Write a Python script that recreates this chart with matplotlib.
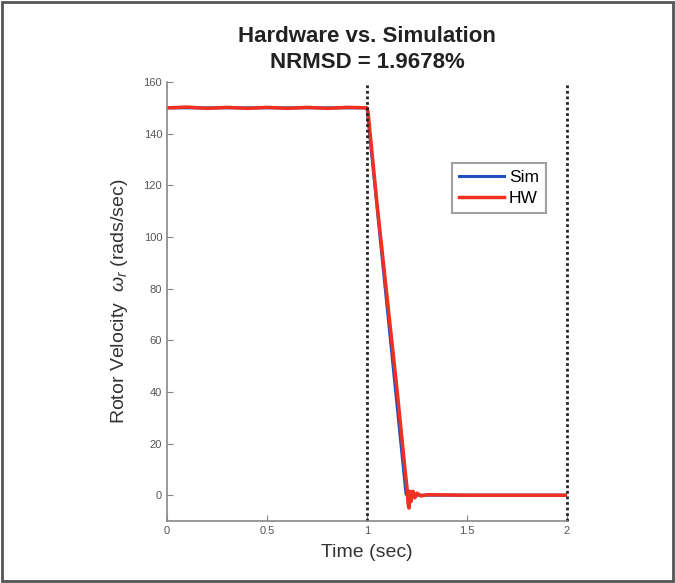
import numpy as np
import matplotlib.pyplot as plt
from matplotlib.patches import Rectangle

plt.rcParams['font.family'] = ['Liberation Sans', 'DejaVu Sans']
plt.rcParams['mathtext.fontset'] = 'custom'
plt.rcParams['mathtext.it'] = 'Liberation Sans:italic'
plt.rcParams['mathtext.rm'] = 'Liberation Sans'

# simulation trace
sim_t = [0, 1.0, 1.195, 1.2, 2.0]
sim_w = [150, 150, 0.5, 0, 0]

# hardware trace
hw_t = [0, 0.1, 0.2, 0.3, 0.4, 0.5, 0.6, 0.7, 0.8, 0.9, 1.0, 1.005, 1.05, 1.1, 1.15,
        1.19, 1.2, 1.205, 1.21, 1.215, 1.22, 1.23, 1.24, 1.25, 1.27, 1.3, 1.5, 2.0]
hw_w = [150, 150.3, 149.8, 150.2, 149.8, 150.2, 149.8, 150.2, 149.8, 150.2, 150, 148.5,
        113, 77, 41, 10, 3, -3, -5, 1.5, -2.5, 1.5, -1, 0.8, -0.3, 0.2, 0, 0]

fig = plt.figure(figsize=(6.75, 5.83), dpi=100)
fig.patches.append(Rectangle((0.003, 0.003), 0.994, 0.994, transform=fig.transFigure,
                             fill=False, edgecolor='#555555', linewidth=2))
ax = fig.add_axes([0.2474, 0.1063, 0.5926, 0.753])

ax.plot(sim_t, sim_w, color='#2050c0', linewidth=2.2, label='Sim')
ax.plot(hw_t, hw_w, color='#f03020', linewidth=2.5, label='HW')
for xv in [1, 2]:
    ax.axvline(xv, color='#222222', linestyle=(0, (1, 1)), linewidth=2, clip_on=False)

ax.set_xlim(0, 2)
ax.set_ylim(-10, 160)
ax.set_xticks([0, 0.5, 1, 1.5, 2])
ax.set_xticklabels(['0', '0.5', '1', '1.5', '2'])
ax.set_yticks(range(0, 161, 20))
for s in ['top', 'right']:
    ax.spines[s].set_visible(False)
for s in ['left', 'bottom']:
    ax.spines[s].set_color('#888888')
    ax.spines[s].set_linewidth(1.2)
ax.tick_params(direction='in', length=4, colors='#888888', labelsize=8, labelcolor='#555555')

ax.set_xlabel('Time (sec)', fontsize=14, color='#333333', labelpad=6)
ax.set_ylabel(r'Rotor Velocity  $\omega_r$ (rads/sec)', fontsize=14, color='#333333',
              labelpad=10)
ax.set_title('Hardware vs. Simulation\nNRMSD = 1.9678%', fontsize=16,
             fontweight='bold', color='#222222', pad=10, linespacing=1.3)

leg = ax.legend(loc='upper left', bbox_to_anchor=(0.69, 0.835), fontsize=12.5,
                fancybox=False, handlelength=2.6, borderpad=0.4, labelspacing=0.3,
                handletextpad=0.3)
leg.get_frame().set_edgecolor('#888888')
leg.get_frame().set_linewidth(1.5)

fig.savefig('out.png', dpi=100)
